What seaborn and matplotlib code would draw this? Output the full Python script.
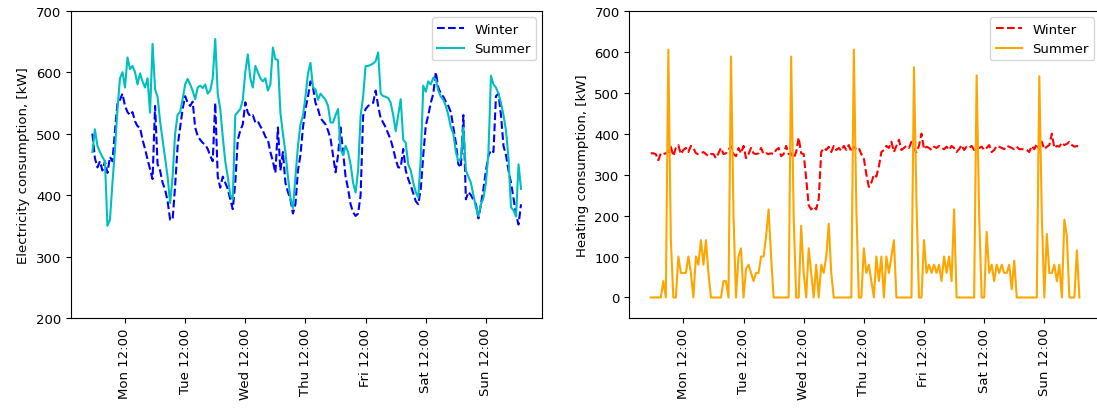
import matplotlib
matplotlib.use("Agg")
import matplotlib.pyplot as plt
import matplotlib.dates as mdates
import numpy as np
import pandas as pd
import seaborn as sns

plt.rcParams["font.size"] = 9.5

# hourly timestamps, one week (starts Sun 23:00)
hours = pd.date_range("2023-01-01 23:00", periods=172, freq="h")

elec_winter = [
    500, 460, 445, 455, 440, 455, 436, 462, 455, 505, 550, 555, 565, 545, 535, 530, 535, 520, 512, 510,
    490, 475, 458, 442, 426, 545, 450, 440, 420, 409, 390, 360, 360, 415, 480, 510, 540, 561, 550, 545,
    552, 510, 496, 490, 485, 482, 475, 464, 455, 550, 430, 412, 430, 420, 410, 393, 377, 420, 490, 505,
    515, 551, 534, 528, 530, 518, 520, 512, 505, 495, 490, 470, 455, 436, 510, 440, 470, 420, 405, 393,
    370, 385, 440, 465, 510, 540, 560, 585, 575, 550, 540, 525, 520, 515, 505, 492, 465, 437, 465, 510,
    470, 430, 410, 385, 372, 366, 370, 400, 529, 540, 545, 548, 550, 570, 545, 525, 518, 510, 500, 490,
    475, 458, 445, 445, 475, 440, 426, 415, 403, 390, 385, 410, 465, 513, 530, 550, 565, 600, 575, 565,
    560, 552, 545, 535, 510, 485, 450, 445, 530, 393, 405, 400, 392, 385, 362, 385, 410, 440, 464, 473,
    470, 561, 565, 530, 480, 465, 440, 420, 395, 368, 352, 385]

elec_summer = [
    470, 507, 480, 470, 462, 455, 350, 360, 420, 474, 540, 590, 600, 575, 624, 605, 610, 600, 580, 598,
    585, 575, 590, 534, 646, 572, 560, 520, 490, 460, 430, 387, 430, 500, 531, 535, 556, 580, 589, 580,
    570, 556, 575, 578, 574, 580, 565, 570, 590, 654, 565, 540, 495, 455, 430, 400, 393, 530, 535, 540,
    555, 600, 629, 590, 575, 610, 600, 590, 585, 590, 570, 580, 640, 621, 620, 534, 500, 470, 430, 395,
    379, 430, 480, 515, 529, 560, 598, 615, 575, 572, 555, 565, 560, 555, 545, 518, 518, 530, 540, 474,
    465, 480, 470, 450, 420, 404, 440, 529, 560, 610, 610, 612, 614, 618, 632, 565, 561, 560, 558, 550,
    530, 504, 530, 556, 490, 485, 450, 440, 420, 405, 396, 460, 578, 568, 585, 580, 591, 588, 570, 560,
    555, 545, 530, 510, 500, 470, 455, 460, 510, 440, 430, 420, 400, 380, 366, 385, 395, 420, 470, 594,
    580, 575, 565, 550, 530, 505, 460, 380, 375, 365, 450, 410]

heat_winter = [
    352, 352, 350, 335, 352, 350, 352, 355, 368, 345, 365, 372, 350, 360, 365, 355, 370, 365, 352, 350,
    352, 355, 350, 345, 350, 350, 340, 352, 365, 350, 352, 360, 370, 350, 345, 365, 352, 370, 340, 350,
    365, 352, 350, 352, 365, 350, 352, 350, 352, 350, 360, 365, 345, 350, 370, 350, 352, 340, 355, 390,
    352, 350, 290, 225, 215, 222, 215, 240, 355, 365, 360, 368, 355, 370, 360, 365, 358, 370, 360, 372,
    355, 368, 362, 365, 350, 340, 300, 270, 280, 300, 295, 320, 355, 360, 370, 365, 380, 355, 370, 385,
    360, 365, 370, 365, 380, 362, 355, 370, 400, 362, 368, 365, 360, 368, 365, 370, 365, 362, 368, 360,
    370, 365, 355, 362, 372, 360, 368, 365, 370, 360, 362, 365, 368, 360, 365, 372, 355, 360, 370, 368,
    365, 362, 370, 368, 365, 362, 368, 362, 362, 362, 360, 355, 370, 362, 375, 360, 380, 362, 368, 372,
    400, 365, 370, 368, 378, 372, 375, 380, 372, 368, 370, 366]

heat_summer = [
    0, 0, 0, 0, 0, 40, 0, 605, 140, 0, 0, 100, 60, 60, 60, 100, 60, 0, 100, 80,
    140, 80, 140, 60, 0, 0, 0, 0, 0, 40, 40, 0, 588, 200, 0, 100, 120, 0, 70, 80,
    60, 40, 60, 60, 100, 100, 150, 215, 100, 0, 0, 0, 0, 0, 0, 0, 588, 200, 0, 0,
    175, 60, 0, 120, 60, 0, 80, 0, 80, 60, 100, 180, 60, 0, 0, 0, 0, 0, 0, 0,
    0, 605, 220, 0, 0, 120, 60, 80, 40, 0, 100, 40, 100, 0, 100, 60, 100, 140, 0, 0,
    0, 0, 0, 0, 0, 562, 230, 0, 0, 140, 60, 80, 60, 80, 60, 80, 40, 100, 60, 100,
    40, 215, 0, 0, 0, 0, 0, 0, 0, 0, 542, 200, 0, 0, 160, 60, 80, 40, 80, 60,
    80, 60, 60, 80, 20, 90, 0, 0, 0, 0, 0, 0, 0, 0, 0, 540, 200, 0, 155, 60,
    60, 80, 40, 80, 0, 190, 150, 0, 0, 0, 115, 0]

fig = plt.figure(figsize=(10.97, 4.10), dpi=100)
ax1 = fig.add_axes([0.0647, 0.222, 0.4298, 0.7495])
ax2 = fig.add_axes([0.5737, 0.222, 0.4298, 0.7495])

sns.lineplot(x=hours, y=elec_winter, ax=ax1, color="b", linestyle="--", label="Winter")
sns.lineplot(x=hours, y=elec_summer, ax=ax1, color="c", label="Summer")
ax1.set_ylim(200, 700)
ax1.set_ylabel("Electricity consumption, [kW]")

sns.lineplot(x=hours, y=heat_winter, ax=ax2, color="r", linestyle="--", label="Winter")
sns.lineplot(x=hours, y=heat_summer, ax=ax2, color="orange", label="Summer")
ax2.set_ylim(-50, 700)
ax2.set_ylabel("Heating consumption, [kW]")

for ax in (ax1, ax2):
    ax.set_xlabel("")
    ax.xaxis.set_major_locator(mdates.HourLocator(byhour=12))
    ax.xaxis.set_major_formatter(mdates.DateFormatter("%a %H:%M"))
    ax.tick_params(axis="x", rotation=90)
    ax.legend(loc="upper right")

fig.savefig("out.png", dpi=100)
